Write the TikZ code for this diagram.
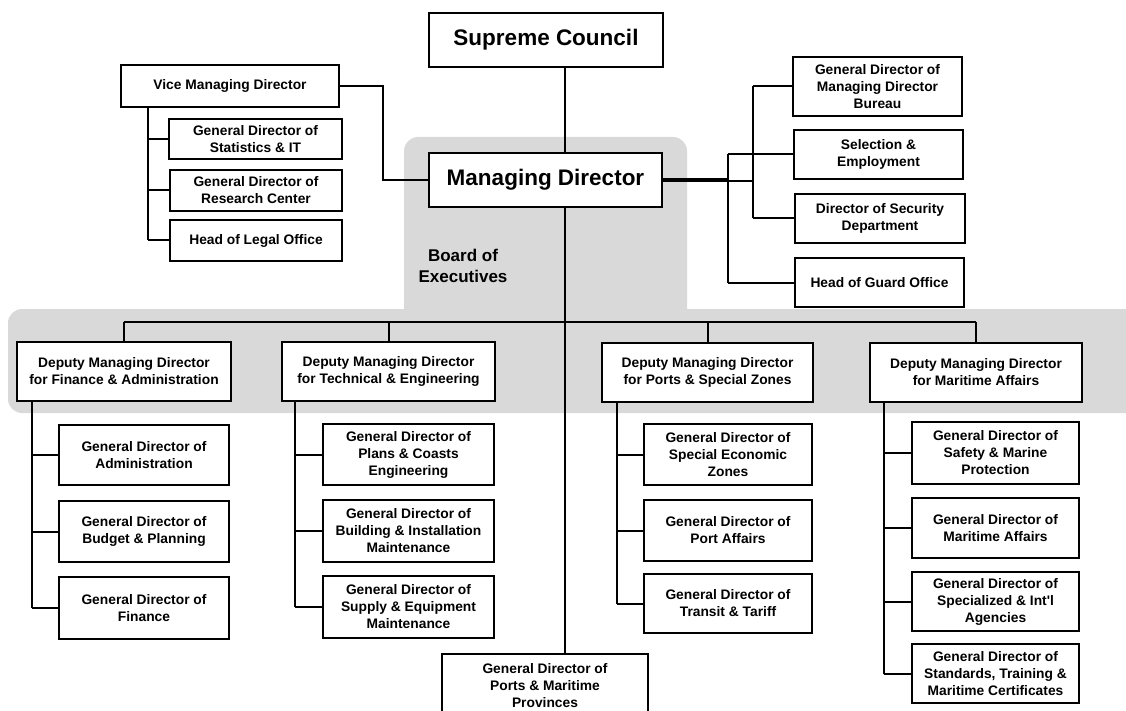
\documentclass[tikz,border=0pt]{standalone}
\usepackage{fontspec}
\setmainfont{Liberation Sans}
\begin{document}
\begin{tikzpicture}[x=1pt,y=-1pt,
  box/.style={draw, line width=2.2pt, fill=white, align=center, inner sep=0pt,
              font=\fontsize{13.8}{17}\selectfont\bfseries},
  big/.style={box, font=\fontsize{22.5}{26}\selectfont\bfseries},
  link/.style={line width=2pt}]
\definecolor{bandgray}{HTML}{D9D9D9}
\useasboundingbox (0,0) rectangle (1126,711);
\clip (0,0) rectangle (1126,711);

% shaded board area
\fill[bandgray, rounded corners=14pt] (404,137) rectangle (687,360);
\fill[bandgray, rounded corners=14pt] (8,309) rectangle (1160,413);
\node[font=\fontsize{17}{21}\selectfont\bfseries, align=center] (board) at (463,266) {Board of\\Executives};

% top level
\node[big, minimum width=234pt, minimum height=54pt] (sc) at (546,40) {Supreme Council};
\node[big, minimum width=233pt, minimum height=54pt] (md) at (545.5,180) {Managing Director};

% vice managing director and its offices
\node[box, minimum width=218pt, minimum height=42pt] (vmd) at (230,86) {Vice Managing Director};
\node[box, minimum width=173pt, minimum height=40pt] (stats) at (255.5,139) {General Director of\\Statistics \& IT};
\node[box, minimum width=172pt, minimum height=41pt] (research) at (256,190.5) {General Director of\\Research Center};
\node[box, minimum width=172pt, minimum height=41pt] (legal) at (256,240.5) {Head of Legal Office};

% offices attached to the managing director
\node[box, minimum width=169pt, minimum height=59pt] (bureau) at (877.5,86.5) {General Director of\\Managing Director\\Bureau};
\node[box, minimum width=169pt, minimum height=49pt] (select) at (878.5,154.5) {Selection \&\\Employment};
\node[box, minimum width=170pt, minimum height=49pt] (security) at (880,218.5) {Director of Security\\Department};
\node[box, minimum width=169pt, minimum height=49pt] (guard) at (879.5,282.5) {Head of Guard Office};

% deputies
\node[box, minimum width=214pt, minimum height=59pt] (dfin) at (124,371.5) {Deputy Managing Director\\for Finance \& Administration};
\node[box, minimum width=213pt, minimum height=59pt] (dtech) at (388.5,371.5) {Deputy Managing Director\\for Technical \& Engineering};
\node[box, minimum width=211pt, minimum height=59pt] (dports) at (707.5,372.5) {Deputy Managing Director\\for Ports \& Special Zones};
\node[box, minimum width=212pt, minimum height=59pt] (dmar) at (976,372.5) {Deputy Managing Director\\for Maritime Affairs};

% finance & administration
\node[box, minimum width=170pt, minimum height=60pt] (admin) at (144,455) {General Director of\\Administration};
\node[box, minimum width=170pt, minimum height=61pt] (budget) at (144,531.5) {General Director of\\Budget \& Planning};
\node[box, minimum width=170pt, minimum height=62pt] (finance) at (144,608) {General Director of\\Finance};

% technical & engineering
\node[box, minimum width=171pt, minimum height=61pt] (plans) at (408.5,454.5) {General Director of\\Plans \& Coasts\\Engineering};
\node[box, minimum width=171pt, minimum height=62pt] (building) at (408.5,531) {General Director of\\Building \& Installation\\Maintenance};
\node[box, minimum width=171pt, minimum height=62pt] (supply) at (408.5,607) {General Director of\\Supply \& Equipment\\Maintenance};

% ports & special zones
\node[box, minimum width=168pt, minimum height=61pt] (sez) at (728,454.5) {General Director of\\Special Economic\\Zones};
\node[box, minimum width=168pt, minimum height=61pt] (portaff) at (728,530.5) {General Director of\\Port Affairs};
\node[box, minimum width=168pt, minimum height=59pt] (transit) at (728,603.5) {General Director of\\Transit \& Tariff};

% maritime affairs
\node[box, minimum width=167pt, minimum height=62pt] (safety) at (995.5,453) {General Director of\\Safety \& Marine\\Protection};
\node[box, minimum width=167pt, minimum height=60pt] (maraff) at (995.5,528) {General Director of\\Maritime Affairs};
\node[box, minimum width=167pt, minimum height=59pt] (special) at (995.5,601.5) {General Director of\\Specialized \& Int\textquotesingle l\\Agencies};
\node[box, minimum width=167pt, minimum height=59pt] (standards) at (995.5,673.5) {General Director of\\Standards, Training \&\\Maritime Certificates};

% provinces, directly under the managing director
\node[box, minimum width=206pt, minimum height=64pt] (prov) at (545,686) {General Director of\\Ports \& Maritime\\Provinces};

% trunk and routing coordinates
\coordinate (trunk) at (565,0);
\coordinate (bus) at (0,322);
\coordinate (vtr) at (148,0);
\coordinate (rtA) at (753,0);
\coordinate (rtB) at (728,0);
\coordinate (ftr) at (32,0);
\coordinate (ttr) at (295,0);
\coordinate (ptr) at (617,0);
\coordinate (mtr) at (884,0);

\begin{scope}[link]
  % main spine
  \draw (sc.south -| trunk) -- (md.north -| trunk);
  \draw (md.south -| trunk) -- (prov.north -| trunk);
  % deputies bus
  \draw (bus -| dfin.north) -- (bus -| dmar.north);
  \foreach \d in {dfin,dtech,dports,dmar}
    \draw (bus -| \d.north) -- (\d.north);
  % vice managing director
  \draw (vmd.east) -| (383,0 |- md.west) -- (md.west);
  \draw (vmd.south -| vtr) -- (vtr |- legal.west);
  \foreach \c in {stats,research,legal}
    \draw (vtr |- \c.west) -- (\c.west);
  % managing director's own offices
  \draw ([yshift=-0.8pt]md.east) -- ([yshift=-0.8pt]rtA |- md.east);
  \draw ([yshift=0.8pt]md.east) -- ([yshift=0.8pt]rtB |- md.east);
  \draw (rtA |- bureau.west) -- (rtA |- security.west);
  \draw (rtB |- select.west) -- (rtB |- guard.west);
  \foreach \c in {bureau,security}
    \draw (rtA |- \c.west) -- (\c.west);
  \foreach \c in {select,guard}
    \draw (rtB |- \c.west) -- (\c.west);
  % deputies' departments
  \draw (dfin.south -| ftr) -- (ftr |- finance.west);
  \foreach \c in {admin,budget,finance}
    \draw (ftr |- \c.west) -- (\c.west);
  \draw (dtech.south -| ttr) -- (ttr |- supply.west);
  \foreach \c in {plans,building,supply}
    \draw (ttr |- \c.west) -- (\c.west);
  \draw (dports.south -| ptr) -- (ptr |- transit.west);
  \foreach \c in {sez,portaff,transit}
    \draw (ptr |- \c.west) -- (\c.west);
  \draw (dmar.south -| mtr) -- (mtr |- standards.west);
  \foreach \c in {safety,maraff,special,standards}
    \draw (mtr |- \c.west) -- (\c.west);
\end{scope}
\end{tikzpicture}
\end{document}
